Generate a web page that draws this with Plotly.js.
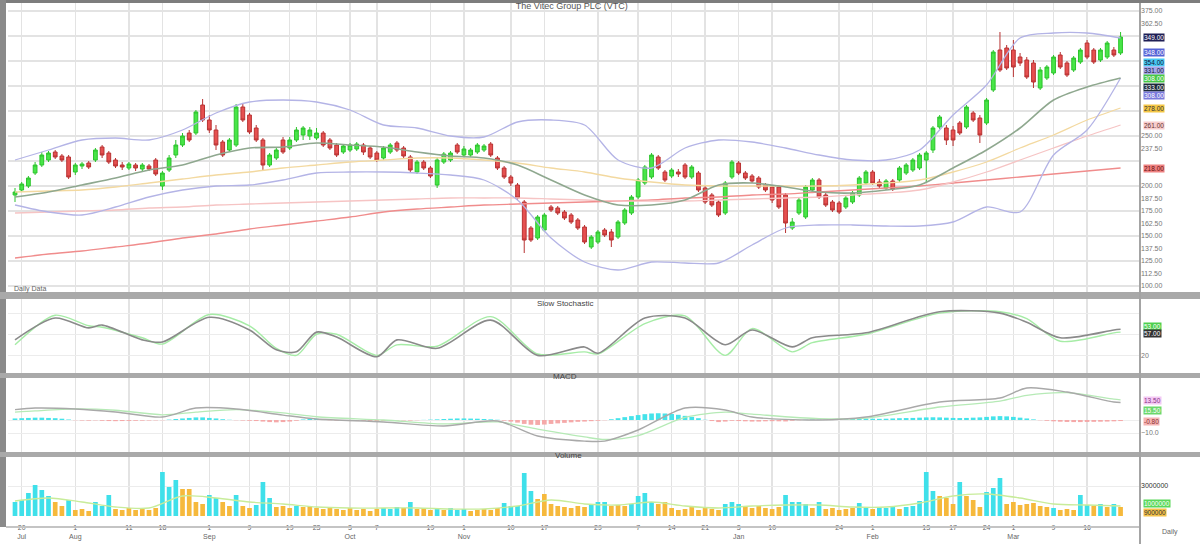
<!DOCTYPE html>
<html><head><meta charset="utf-8">
<script src="https://cdn.plot.ly/plotly-3.0.1.min.js"></script>
<style>html,body{margin:0;padding:0;background:#fff;}#chart{width:1200px;height:544px;}</style>
</head><body><div id="chart"></div>
<script>
const chartTitle = 'The Vitec Group PLC (VTC)';

const openP = [191,196,200,213,221,226,234,230,229,214,
220,223,226,239,233,226,221,218,221,217,
220,226,200,216,231,241,253,253,281,266,
256,244,236,241,279,271,258,246,221,228,
246,238,246,251,250,248,253,246,241,234,
236,237,241,238,233,228,234,243,238,229,
214,224,218,201,224,226,241,231,231,234,
236,242,228,218,209,201,184,158,148,156,
179,178,174,171,166,159,139,144,156,154,
149,163,173,189,203,209,229,214,210,214,
221,209,213,198,191,184,173,209,223,213,
210,208,201,199,199,191,158,173,169,196,
206,191,184,183,179,184,191,203,214,204,
198,205,206,213,216,218,226,236,259,258,
256,263,259,273,268,263,296,336,338,336,
329,326,323,298,308,313,331,323,316,324,
343,336,326,329,336,333];
const highP = [198,204,210,224,234,235,236,232,231,223,
224,225,238,241,235,228,224,224,223,223,
222,228,215,231,246,253,256,276,287,271,
261,246,248,282,283,273,261,248,233,238,
249,249,259,260,259,258,255,248,243,242,
243,244,243,240,235,240,243,245,240,231,
226,226,220,229,234,235,243,240,238,243,
242,244,230,220,211,203,186,160,171,173,
181,180,176,173,168,161,151,156,158,157,
166,178,191,208,221,233,231,216,218,217,
223,221,215,200,193,186,205,226,225,215,
212,210,203,201,201,193,168,188,201,208,
208,193,186,185,190,195,210,216,216,207,
207,207,220,223,228,233,235,260,271,261,
260,265,281,275,271,288,336,354,341,346,
333,329,326,319,321,331,334,325,330,338,
346,338,338,345,339,354];
const lowP = [184,194,198,211,219,224,227,224,207,211,
217,217,224,228,222,218,216,216,215,215,
215,210,196,214,228,239,244,251,264,253,
236,229,234,239,264,252,244,216,219,226,
232,236,244,246,246,246,239,236,229,232,
234,235,231,227,224,226,232,234,228,213,
212,216,208,198,222,224,232,229,229,232,
234,229,216,207,200,186,133,144,146,154,
174,171,166,162,156,142,137,142,149,139,
147,161,171,187,201,207,216,204,208,209,
207,207,194,182,179,169,171,207,211,206,
203,197,194,183,177,153,156,171,167,194,
187,179,174,172,177,182,189,201,201,198,
196,195,204,211,214,216,203,233,257,241,
240,251,257,264,243,261,294,314,316,309,
320,307,298,296,306,311,317,309,314,322,
327,322,324,327,329,331];
const closeP = [194,202,208,221,231,233,229,226,209,221,
222,219,236,231,224,220,219,222,218,221,
217,212,213,228,241,250,246,274,266,256,
241,231,246,279,266,254,246,221,231,236,
234,246,256,258,256,253,241,238,231,240,
241,242,234,229,226,238,241,236,230,216,
224,218,210,226,232,233,234,237,236,241,
240,231,218,209,203,188,146,146,169,171,
176,173,168,164,158,144,149,154,151,146,
164,176,189,206,219,231,218,206,216,212,
209,219,196,184,181,171,203,224,213,208,
205,199,196,186,179,163,164,186,199,206,
189,181,176,174,188,193,208,214,203,200,
205,197,218,221,226,231,233,258,269,246,
246,253,279,266,251,286,334,316,318,319,
323,309,304,316,319,329,319,311,328,336,
329,324,336,343,331,349];

// moving-average style overlays, sampled every 5 sessions
const maIdx = [0,5,10,15,20,25,30,35,40,45,50,55,60,65,70,75,80,85,90,95,100,105,110,115,120,125,130,135,140,145,150,155,160,165];
const bbUpper = [226,236,246,248,246,256,273,284,286,284,276,261,258,250,249,264,266,261,226,218,238,246,244,238,231,226,226,236,271,301,348,353,353,348];
const bbLower = [181,174,171,179,189,196,200,201,206,213,214,214,213,211,206,186,148,124,116,124,123,123,141,158,161,161,160,160,164,179,174,231,256,308];
const sma20 = [189,194,201,208,216,221,231,238,239,243,241,239,234,230,228,221,206,191,181,181,186,201,203,199,194,193,196,201,218,236,258,286,299,308];
const sma50 = [194,195,196,199,203,207,211,214,218,221,224,226,228,228,226,223,218,214,208,204,201,200,200,200,200,201,203,206,214,224,238,251,266,278];
const sma100 = [173,174,175,176,178,179,181,182,183,184,185,186,187,188,188,188,187,186,185,185,185,186,187,188,189,191,193,196,204,214,226,238,250,261];
const sma200 = [128,132,135,139,143,148,152,157,161,165,169,174,177,179,181,182,183,184,185,186,188,189,191,192,194,196,198,200,203,206,209,212,215,218];

// price axis labels (those hidden behind the value boxes are left out)
const priceTicks = [375,362.5,250,237.5,200,187.5,175,162.5,150,137.5,125,112.5,100];

// slow stochastic
const stIdx = [0,6,11,13,19,22,29,35,39,42,45,48,54,57,63,71,78,85,87,94,100,106,110,116,119,127,138,147,151,156,164,165];
const stochK = [42,73,59,63,42,39,74,56,28,25,53,46,18,42,30,70,20,32,23,73,73,35,56,32,45,52,82,80,67,45,56,57];
const stochD = [35,77,62,60,45,36,78,62,30,20,50,50,20,35,33,75,22,25,22,65,76,20,58,25,38,50,80,82,72,40,52,53];

// MACD
const mIdx = [0,3,9,15,22,27,33,40,45,55,64,72,78,85,88,93,100,106,110,120,127,138,147,151,157,164,165];
const macdLine = [8.0,9.2,8.5,6.2,2.3,9.2,8.5,3.8,0.8,-1.5,-4.6,-0.8,-12.3,-16.2,-16.2,-7.7,9.2,7.7,2.3,0,2.3,13.8,16.9,24.6,21.5,13.8,13.5];
const signalLine = [6.0,7,8.5,7.5,4,6,8,5.5,2.5,0,-3,-1.5,-7,-13,-15,-12,2,6,4.5,1,1.5,10,14.5,19,21,16,15.5];
const macdHist = [1.2,1.4,1.6,1.8,1.8,1.6,1.4,1.0,
0.4,-0.2,-0.4,-0.5,-0.3,-0.6,-0.8,-0.9,-0.8,-0.7,-0.6,-0.5,-0.4,-0.3,-0.2,0.3,
0.8,1.2,1.6,2.0,2.0,1.6,1.2,
0.6,0.2,-0.2,-0.4,-0.6,-0.8,
-1.2,-1.6,-1.8,-1.6,-1.2,-0.6,
0.4,0.8,0.9,0.6,
-0.2,-0.5,-0.7,-0.8,-0.8,-0.7,-0.8,-0.9,-0.7,-0.5,-0.4,-0.3,
-0.4,-0.2,0.1,0.3,0.5,
0.8,1.0,1.2,1.2,1.1,1.0,0.8,0.5,0.2,
-0.5,-1.2,-2.0,-3.0,-3.6,-3.8,-3.5,-3.0,-2.6,-2.2,-1.8,-1.4,
-1.2,-0.9,-0.6,-0.2,
0.6,1.4,2.2,3.0,
3.8,4.5,5.0,5.2,5.0,4.6,4.0,3.2,2.4,1.4,
0.2,-0.8,-1.6,-1.2,-0.6,
-0.8,-1.0,-1.2,-1.2,-1.0,-0.9,-1.0,-1.1,
-0.6,-0.2,0.2,0.4,0.3,
0.2,0.3,0.4,0.6,0.8,1.0,1.1,1.0,0.9,1.0,1.2,1.4,1.5,1.6,1.8,2.0,2.1,2.0,1.8,1.6,1.5,1.6,1.8,2.0,2.4,2.8,3.0,2.8,2.4,1.8,1.2,0.5,
-0.2,-0.6,-1.0,-1.3,-1.5,-1.6,-1.6,-1.5,-1.4,-1.3,-1.2,-1.0,-0.8];

// volume (thousands of shares) and bar colour flag (1 = cyan, 0 = orange)
const volK = [1400,1600,2300,3100,2600,2000,1400,1000,1600,600,
700,500,1400,1000,2100,700,600,800,600,700,
600,800,4400,2900,3600,2700,2700,1400,1200,2100,
1800,1400,1000,2100,1000,800,1100,3400,1800,900,
1000,800,1000,900,1000,800,700,900,700,600,
800,600,700,500,700,800,700,900,800,1400,
700,800,600,700,600,800,600,700,500,600,
700,600,800,1300,1000,1000,4300,2500,1700,2200,
1200,1000,900,800,1000,900,1200,1400,1400,1000,
1100,1000,1200,2000,2300,1400,1200,1400,800,600,
700,900,600,800,700,600,1200,1400,1200,900,
800,1000,800,700,900,2100,1400,1400,1200,800,
1400,700,800,600,700,800,1300,800,700,900,
800,1000,700,900,1000,1500,4400,2500,2000,1800,
1200,3400,2000,1600,900,2400,2800,3800,1200,1400,
1100,1200,1300,1000,900,800,600,700,600,2100,
1100,1000,1200,900,1200,900];
const volUp = [1,1,1,1,1,1,0,0,1,0, 0,0,1,1,1,0,0,0,0,0, 0,0,1,1,1,0,0,0,0,1, 1,0,0,1,0,0,1,1,1,0,
0,0,1,0,0,0,0,0,0,0, 0,0,0,0,0,1,1,1,0,1, 0,0,0,1,0,1,1,1,0,0, 0,0,0,1,1,1,1,1,0,0,
0,0,0,0,0,0,1,1,1,0, 0,0,1,1,1,1,0,0,0,0, 0,0,0,0,0,0,1,1,1,0, 0,0,0,0,0,1,1,1,1,0,
1,0,0,0,0,0,1,1,0,1, 1,1,0,1,1,1,1,1,0,0, 0,1,0,0,0,1,1,1,0,0, 0,0,0,0,0,1,0,0,0,1,
1,0,1,0,1,0];
const volMA = [1500,1800,1400,900,800,2000,1800,1400,1200,900,800,800,800,700,700,1000,1600,1200,1100,1400,1000,800,1000,1100,1100,900,900,1300,2000,2200,1800,1200,1100,1000];

// date axis
const tickIdx = [1,9,17,22,29,35,41,45,50,54,62,67,74,79,87,93,98,103,108,113,123,128,136,140,145,149,155,160];
const tickText = ['20<br>Jul','1<br>Aug','11','18','1<br>Sep','9','19','23','3<br>Oct','7','19','1<br>Nov','10','17','29','7','14','21','3<br>Jan','10','24','1<br>Feb','13','17','24','1<br>Mar','9','16'];

const N = closeP.length;
const idx = Array.from({length: N}, (_, i) => i);
const last = a => a[a.length - 1];

function line(x, y, color, width, yaxis) {
  return {type:'scatter', mode:'lines', x:x, y:y, yaxis:yaxis, xaxis:'x',
    line:{color:color, width:width, shape:'spline', smoothing:0.8}, hoverinfo:'skip', showlegend:false};
}

const traces = [
  line(maIdx, sma200, '#f08c8c', 1.3, 'y'),
  line(maIdx, sma100, '#f6c4c4', 1.3, 'y'),
  line(maIdx, sma50, '#f3d9a0', 1.3, 'y'),
  line(maIdx, bbUpper, '#b4b4e6', 1.3, 'y'),
  line(maIdx, bbLower, '#b4b4e6', 1.3, 'y'),
  line(maIdx, sma20, '#8fa88f', 1.6, 'y'),
  {type:'candlestick', x:idx, open:openP, high:highP, low:lowP, close:closeP, xaxis:'x', yaxis:'y',
    increasing:{line:{color:'#2cc42c', width:1}, fillcolor:'#48e548'},
    decreasing:{line:{color:'#b83232', width:1}, fillcolor:'#e65050'},
    whiskerwidth:0, hoverinfo:'skip', showlegend:false},
  {type:'scatter', mode:'markers', x:[idx[0]], y:[closeP[0]], yaxis:'y5', xaxis:'x',
    marker:{opacity:0}, hoverinfo:'skip', showlegend:false},
  line(stIdx, stochD, '#a6eca6', 1.4, 'y2'),
  line(stIdx, stochK, '#8a8a8a', 1.6, 'y2'),
  {type:'bar', x:idx, y:macdHist, xaxis:'x', yaxis:'y3', hoverinfo:'skip', showlegend:false,
    marker:{color:macdHist.map(v => v >= 0 ? '#45e3ea' : '#f5a9a9')}},
  line(mIdx, signalLine, '#b6eab6', 1.3, 'y3'),
  line(mIdx, macdLine, '#a9a9a9', 1.4, 'y3'),
  {type:'bar', x:idx, y:volK, xaxis:'x', yaxis:'y4', hoverinfo:'skip', showlegend:false,
    marker:{color:volUp.map(u => u ? '#3fe0ea' : '#f6b93c')}},
  line(maIdx, volMA, '#c8ec9a', 1.3, 'y4')
];

// pixel helpers converted to paper coords (plot area: x 8..1140, y 3..516)
const px = X => (X - 8) / 1132;
const py = Y => (516 - Y) / 513;

const sepColor = '#a9a9a9';
const shapes = [
  {type:'rect', xref:'paper', yref:'paper', x0:px(0), x1:px(1200), y0:py(3), y1:py(0), fillcolor:'#7d7d7d', line:{width:0}},
  {type:'rect', xref:'paper', yref:'paper', x0:px(0), x1:px(6), y0:py(527), y1:py(0), fillcolor:'#8a8a8a', line:{width:0}},
  {type:'rect', xref:'paper', yref:'paper', x0:px(0), x1:px(1200), y0:py(299), y1:py(292), fillcolor:sepColor, line:{width:0}},
  {type:'rect', xref:'paper', yref:'paper', x0:px(0), x1:px(1200), y0:py(378), y1:py(373), fillcolor:sepColor, line:{width:0}},
  {type:'rect', xref:'paper', yref:'paper', x0:px(0), x1:px(1200), y0:py(457), y1:py(452), fillcolor:sepColor, line:{width:0}},
  {type:'line', xref:'paper', yref:'paper', x0:px(6), x1:1, y0:py(527), y1:py(527), line:{color:'#c4c4c4', width:2}},
  {type:'line', xref:'paper', yref:'paper', x0:1, x1:1, y0:py(544), y1:py(3), line:{color:'#a4a4a4', width:2}}
];

function box(text, yref, yval, bg, fg, yshift) {
  return {xref:'paper', x:1, xanchor:'left', xshift:3, yref:yref, y:yval, yanchor:'middle', yshift:yshift||0,
    text:text, showarrow:false, bgcolor:bg, borderpad:0, font:{size:6.5, color:fg}};
}
const f2 = v => v.toFixed(2);

const annotations = [
  {xref:'paper', yref:'paper', x:px(565), y:py(303), text:'Slow Stochastic', showarrow:false, font:{size:8, color:'#444'}},
  {xref:'paper', yref:'paper', x:px(565), y:py(383), text:'MACD', showarrow:false, font:{size:8, color:'#444'}},
  {xref:'paper', yref:'paper', x:px(568), y:py(462), text:'Volume', showarrow:false, font:{size:8, color:'#444'}},
  {xref:'paper', yref:'paper', x:px(12), xanchor:'left', y:py(289), text:'Daily Data', showarrow:false, font:{size:7, color:'#666'}},
  {xref:'paper', yref:'paper', x:px(1160), xanchor:'left', y:py(538), text:'Daily', showarrow:false, font:{size:7, color:'#666'}},
  box(f2(last(closeP)), 'y', last(closeP), '#1f1f55', '#fff', 0),
  box(f2(last(bbUpper)), 'y', last(bbUpper), '#5563d6', '#fff', -14),
  box(f2(last(highP)), 'y', last(highP), '#48c8f2', '#113', -30),
  box(f2(last(lowP)), 'y', last(lowP), '#a6a6ea', '#113', -15),
  box(f2(last(sma20)), 'y', last(sma20), '#46c846', '#fff', 0),
  box(f2(last(openP)), 'y', last(openP), '#1d2b3a', '#fff', -34),
  box(f2(last(bbLower)), 'y', last(bbLower), '#7a7adc', '#fff', -17),
  box(f2(last(sma50)), 'y', last(sma50), '#f4c644', '#333', 0),
  box(f2(last(sma100)), 'y', last(sma100), '#f8cccc', '#633', 0),
  box(f2(last(sma200)), 'y', last(sma200), '#ee8080', '#611', 0),
  box(f2(last(stochD)), 'y2', last(stochD), '#4ed04e', '#fff', 6),
  box(f2(last(stochK)), 'y2', last(stochK), '#333', '#fff', -4),
  box(f2(last(macdLine)), 'y3', last(macdLine), '#f4c8f4', '#838', 2),
  box(f2(last(signalLine)), 'y3', last(signalLine), '#6cd86c', '#fff', -11),
  box(f2(last(macdHist)), 'y3', last(macdHist), '#f6b4b4', '#833', 0),
  box(String(last(volMA) * 1000), 'y4', last(volMA), '#5ad85a', '#fff', 3),
  box(String(last(volK) * 1000), 'y4', last(volK), '#f4c24a', '#333', -5)
];

const gridC = '#e3e3e3';
const layout = {
  width:1200, height:544,
  margin:{l:8, r:60, t:3, b:28},
  paper_bgcolor:'#fff', plot_bgcolor:'#fff',
  showlegend:false,
  font:{family:'Liberation Sans, Arial, sans-serif', size:8, color:'#555'},
  title:{text:chartTitle, font:{size:9, color:'#555'}, xref:'paper', x:0.498, xanchor:'center', yref:'container', y:1 - 6/544, yanchor:'middle'},
  bargap:0.3, boxgap:0.2,
  xaxis:{anchor:'y4', domain:[0,1], range:[-1.045, 167.9], tickmode:'array', tickvals:tickIdx, ticktext:tickText,
    showgrid:true, gridcolor:gridC, gridwidth:1.5, zeroline:false, showline:false, ticks:'',
    rangeslider:{visible:false}, tickfont:{size:7, color:'#666'}, ticklabelstandoff:6},
  yaxis:{domain:[py(292), py(3)], anchor:'x', side:'right', range:[94, 383], dtick:25, tick0:0,
    showgrid:true, gridcolor:gridC, gridwidth:1.5, showticklabels:false, zeroline:false, ticks:''},
  yaxis5:{overlaying:'y', matches:'y', anchor:'x', side:'right', showgrid:false, tickmode:'array', tickvals:priceTicks,
    tickformat:'.2f', tickfont:{size:7, color:'#777'}, zeroline:false, ticks:''},
  yaxis2:{domain:[py(373), py(299)], anchor:'x', side:'right', range:[-5, 100], tickvals:[20, 50, 80], ticktext:['20', '', ''],
    showgrid:true, gridcolor:'#ececec', zeroline:false, ticks:'', tickfont:{size:7, color:'#777'}},
  yaxis3:{domain:[py(452), py(378)], anchor:'x', side:'right', range:[-24.6, 32.3], tickvals:[-10], tickformat:'.1f',
    showgrid:true, gridcolor:'#ececec', zeroline:true, zerolinecolor:'#eeeeee', ticks:'', tickfont:{size:7, color:'#777'}},
  yaxis4:{domain:[0, py(457)], anchor:'x', side:'right', range:[0, 5900], tickvals:[3000], ticktext:['3000000'],
    showgrid:true, gridcolor:'#ececec', zeroline:false, ticks:'', tickfont:{size:7, color:'#333'}},
  shapes:shapes,
  annotations:annotations
};

Plotly.newPlot('chart', traces, layout, {displayModeBar:false, staticPlot:true});
</script>
</body></html>
